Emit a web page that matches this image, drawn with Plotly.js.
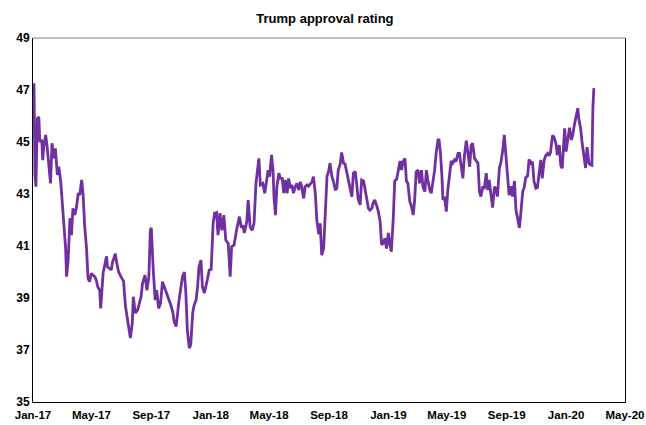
<!DOCTYPE html>
<html>
<head>
<meta charset="utf-8">
<script src="https://cdn.plot.ly/plotly-3.0.1.min.js"></script>
<style>html,body{margin:0;padding:0;background:#fff;}#chart{width:646px;height:425px;}</style>
</head>
<body>
<div id="chart"></div>
<script>
const dates = [
'2017-01-22','2017-01-24','2017-01-26','2017-01-29','2017-02-01','2017-02-03','2017-02-07','2017-02-09','2017-02-11','2017-02-15',
'2017-02-18','2017-02-22','2017-02-25','2017-02-28','2017-03-04','2017-03-07','2017-03-11','2017-03-14','2017-03-18','2017-03-21',
'2017-03-24','2017-03-28','2017-03-30','2017-04-02','2017-04-06','2017-04-09','2017-04-12','2017-04-16','2017-04-19','2017-04-23',
'2017-04-26','2017-04-30','2017-05-03','2017-05-06','2017-05-10','2017-05-13','2017-05-16','2017-05-20','2017-05-23','2017-05-27',
'2017-05-30','2017-06-02','2017-06-06','2017-06-08','2017-06-13','2017-06-18','2017-06-20','2017-06-22','2017-06-30','2017-07-02',
'2017-07-08','2017-07-11','2017-07-15','2017-07-20','2017-07-25','2017-07-29','2017-08-03','2017-08-08','2017-08-12','2017-08-14',
'2017-08-18','2017-08-23','2017-08-30','2017-09-02','2017-09-07','2017-09-11','2017-09-15','2017-09-18','2017-09-20','2017-09-22',
'2017-09-24','2017-09-28','2017-10-01','2017-10-05','2017-10-09','2017-10-13','2017-10-18','2017-10-21','2017-10-26','2017-10-30',
'2017-11-03','2017-11-06','2017-11-10','2017-11-13','2017-11-16','2017-11-20','2017-11-23','2017-11-27','2017-11-30','2017-12-03',
'2017-12-07','2017-12-10','2017-12-14','2017-12-17','2017-12-21','2017-12-24','2017-12-27','2017-12-31','2018-01-03','2018-01-07',
'2018-01-10','2018-01-13','2018-01-17','2018-01-21','2018-01-25','2018-01-28','2018-02-01','2018-02-04','2018-02-08','2018-02-12',
'2018-02-16','2018-02-20','2018-02-25','2018-03-01','2018-03-04','2018-03-09','2018-03-14','2018-03-18','2018-03-20','2018-03-24',
'2018-03-27','2018-03-30','2018-04-04','2018-04-07','2018-04-11','2018-04-15','2018-04-19','2018-04-23','2018-04-29','2018-05-02',
'2018-05-07','2018-05-11','2018-05-15','2018-05-18','2018-05-21','2018-05-25','2018-05-28','2018-05-30','2018-06-02','2018-06-05',
'2018-06-09','2018-06-12','2018-06-16','2018-06-19','2018-06-22','2018-06-26','2018-06-29','2018-07-03','2018-07-06','2018-07-09',
'2018-07-13','2018-07-16','2018-07-20','2018-07-23','2018-07-26','2018-07-30','2018-08-02','2018-08-06','2018-08-09','2018-08-13',
'2018-08-16','2018-08-19','2018-08-23','2018-08-26','2018-08-30','2018-09-02','2018-09-05','2018-09-09','2018-09-12','2018-09-16',
'2018-09-19','2018-09-22','2018-09-26','2018-09-29','2018-10-03','2018-10-06','2018-10-09','2018-10-13','2018-10-16','2018-10-20',
'2018-10-23','2018-10-26','2018-10-30','2018-11-02','2018-11-06','2018-11-09','2018-11-13','2018-11-16','2018-11-19','2018-11-23',
'2018-11-26','2018-11-30','2018-12-03','2018-12-06','2018-12-10','2018-12-13','2018-12-17','2018-12-20','2018-12-23','2018-12-27',
'2018-12-30','2019-01-03','2019-01-06','2019-01-09','2019-01-13','2019-01-16','2019-01-20','2019-01-23','2019-01-26','2019-01-30',
'2019-02-02','2019-02-06','2019-02-09','2019-02-13','2019-02-16','2019-02-19','2019-02-23','2019-02-26','2019-03-01','2019-03-05',
'2019-03-08','2019-03-12','2019-03-15','2019-03-18','2019-03-22','2019-03-25','2019-03-29','2019-04-01','2019-04-05','2019-04-08',
'2019-04-11','2019-04-15','2019-04-18','2019-04-22','2019-04-25','2019-04-28','2019-05-02','2019-05-04','2019-05-07','2019-05-10',
'2019-05-12','2019-05-15','2019-05-19','2019-05-22','2019-05-26','2019-05-29','2019-06-01','2019-06-05','2019-06-08','2019-06-12',
'2019-06-15','2019-06-18','2019-06-22','2019-06-25','2019-06-29','2019-07-02','2019-07-06','2019-07-09','2019-07-12','2019-07-16',
'2019-07-19','2019-07-23','2019-07-26','2019-07-29','2019-08-02','2019-08-05','2019-08-09','2019-08-12','2019-08-15','2019-08-19',
'2019-08-22','2019-08-26','2019-08-29','2019-09-01','2019-09-05','2019-09-08','2019-09-12','2019-09-15','2019-09-18','2019-09-22',
'2019-09-25','2019-09-29','2019-10-02','2019-10-06','2019-10-09','2019-10-12','2019-10-16','2019-10-19','2019-10-23','2019-10-26',
'2019-10-29','2019-11-02','2019-11-05','2019-11-09','2019-11-12','2019-11-15','2019-11-19','2019-11-22','2019-11-26','2019-11-29',
'2019-12-02','2019-12-06','2019-12-09','2019-12-13','2019-12-16','2019-12-19','2019-12-23','2019-12-26','2019-12-30','2020-01-02',
'2020-01-06','2020-01-09','2020-01-12','2020-01-17','2020-01-20','2020-01-24','2020-01-27','2020-01-31','2020-02-03','2020-02-06',
'2020-02-10','2020-02-13','2020-02-15','2020-02-19','2020-02-22','2020-02-26','2020-02-29','2020-03-03','2020-03-07','2020-03-10',
'2020-03-13','2020-03-15','2020-03-17'
];
const approval = [
47.26,43.73,43.28,45.90,45.97,45.00,45.08,44.30,44.82,45.27,
44.82,44.12,43.41,44.95,44.37,44.76,43.73,44.05,43.47,42.70,
42.07,40.91,39.82,40.40,42.07,41.42,42.45,42.19,42.45,43.03,
42.96,43.54,42.96,41.80,40.91,39.76,39.63,39.95,39.88,39.82,
39.69,39.43,39.30,38.60,39.95,40.35,40.60,40.20,40.08,40.35,
40.70,40.35,40.00,39.80,39.65,38.67,38.04,37.46,38.04,39.05,
38.42,38.54,39.05,39.57,39.88,39.30,39.82,41.60,41.70,40.60,
40.08,38.92,39.30,38.60,38.80,39.63,39.38,39.19,38.92,38.73,
38.47,38.09,37.90,38.54,38.92,39.43,39.82,40.00,39.19,37.77,
37.07,37.20,38.42,38.73,38.92,39.43,40.20,40.46,39.43,39.19,
39.40,39.69,40.08,40.10,41.87,42.26,42.29,41.42,42.26,41.60,
42.19,41.23,41.10,39.82,40.97,41.04,41.60,42.00,42.13,41.70,
41.80,41.50,41.92,42.77,41.74,41.60,41.87,43.41,44.37,43.35,
43.41,43.03,43.60,43.92,43.67,44.50,43.92,42.90,42.19,43.28,
43.80,43.60,43.60,43.03,43.54,43.03,43.60,43.22,43.35,43.03,
43.28,43.41,43.15,43.47,43.28,42.83,43.28,43.35,43.30,43.41,
43.47,43.67,43.00,42.00,41.45,41.87,40.65,40.90,42.13,43.70,
43.85,44.18,43.67,43.50,43.15,43.22,43.92,44.15,44.60,44.18,
44.15,43.85,43.60,43.20,42.90,43.80,43.86,43.35,42.80,42.58,
43.54,43.50,43.15,42.90,42.45,42.38,42.45,42.67,42.77,42.55,
42.35,41.95,41.05,41.10,41.30,40.90,41.50,41.07,40.78,42.05,
43.50,43.57,43.90,44.27,43.92,44.25,44.37,43.50,43.41,42.70,
42.55,42.19,42.77,43.85,43.92,43.41,43.92,43.28,43.09,43.92,
43.54,43.15,43.03,43.54,43.92,44.56,45.08,45.08,44.56,43.67,
42.77,42.90,42.32,43.15,43.80,44.27,44.18,44.31,44.25,44.56,
44.56,44.05,43.60,44.44,45.05,44.63,44.05,44.88,44.95,44.37,
44.30,44.18,43.10,42.90,43.30,43.20,43.80,43.15,43.54,42.77,
42.48,43.28,43.20,42.90,44.00,44.20,44.69,45.27,44.56,43.92,
42.95,43.30,42.90,43.50,42.38,42.10,41.70,42.26,43.10,43.25,
43.63,43.70,44.33,44.18,44.24,43.50,43.22,43.25,43.92,44.31,
43.60,44.31,44.47,44.56,44.47,44.60,45.25,45.20,44.95,44.50,
44.88,44.10,43.99,45.53,44.63,45.14,45.55,45.08,45.30,45.65,
46.04,46.30,45.91,45.50,44.95,44.50,44.00,44.80,44.18,44.12,
44.10,46.30,47.07
];
const tickDates = ['2017-01-20','2017-05-20','2017-09-20','2018-01-20','2018-05-20','2018-09-20','2019-01-20','2019-05-20','2019-09-20','2020-01-20','2020-05-20'];
const tickLabels = ['Jan-17','May-17','Sep-17','Jan-18','May-18','Sep-18','Jan-19','May-19','Sep-19','Jan-20','May-20'];
const yTicks = [35,37,39,41,43,45,47,49];

const fontFam = 'Liberation Sans, Arial, sans-serif';
const trace = {
  x: dates, y: approval, type: 'scatter', mode: 'lines',
  line: {color: '#7030A0', width: 2.8}, hoverinfo: 'x+y'
};
const layout = {
  width: 646, height: 425,
  margin: {l: 33, r: 21, t: 38, b: 23},
  paper_bgcolor: '#ffffff', plot_bgcolor: '#ffffff',
  showlegend: false,
  title: {text: 'Trump approval rating', x: 0.503, xanchor: 'center', y: 0.957, yanchor: 'middle',
    font: {family: fontFam, size: 13, color: '#000', weight: 700}},
  xaxis: {
    type: 'date', range: [tickDates[0], tickDates[tickDates.length-1]],
    tickmode: 'array', tickvals: tickDates, ticktext: tickLabels,
    showgrid: false, zeroline: false, showline: true, linecolor: '#000', linewidth: 1,
    ticks: '', ticklen: 0, tickangle: 0, ticklabeloverflow: 'allow', ticklabelstandoff: 2,
    tickfont: {family: fontFam, size: 11.5, color: '#000', weight: 700}
  },
  yaxis: {
    range: [35, 49], tickmode: 'array', tickvals: yTicks, ticktext: yTicks.map(String),
    showgrid: false, zeroline: false, showline: true, mirror: true, linecolor: '#000', linewidth: 1,
    ticks: '', ticklen: 0,
    tickfont: {family: fontFam, size: 12, color: '#000', weight: 700}
  },
  shapes: [{type: 'line', xref: 'paper', yref: 'paper', x0: 0, x1: 1, y0: 1, y1: 1,
    line: {color: '#808080', width: 1}}]
};
Plotly.newPlot('chart', [trace], layout, {staticPlot: true, displayModeBar: false});
</script>
</body>
</html>
